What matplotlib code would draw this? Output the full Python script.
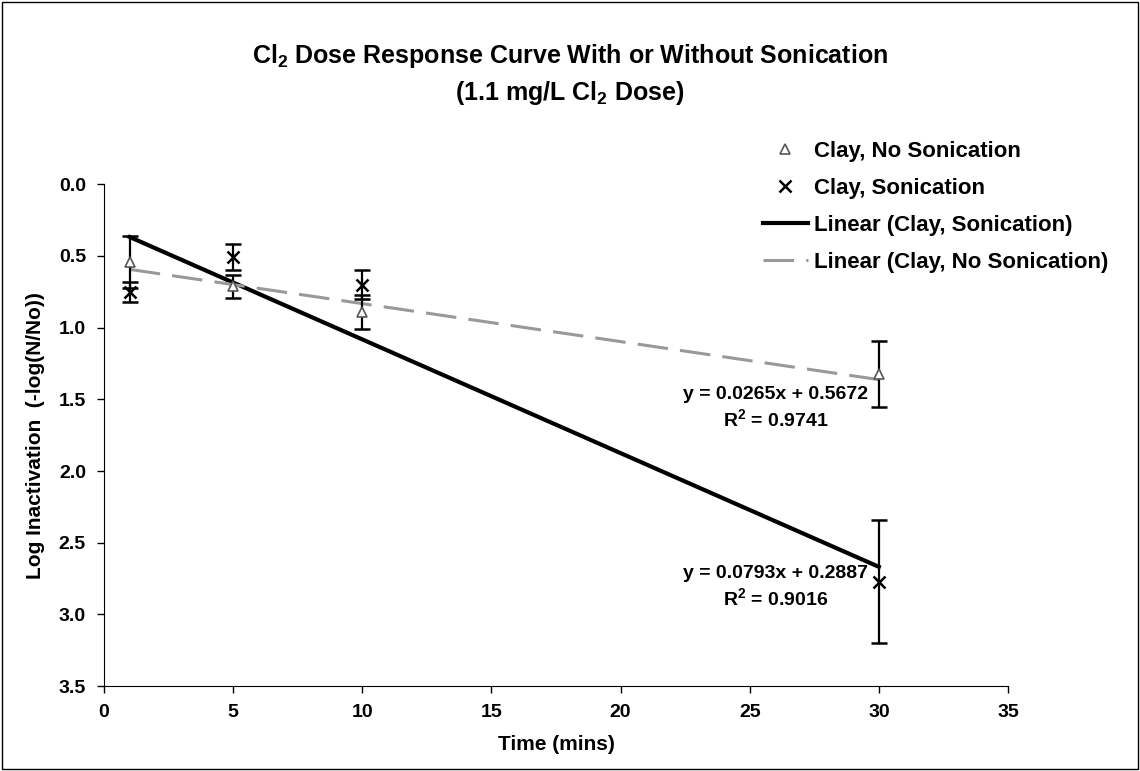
import numpy as np
import matplotlib
matplotlib.use("Agg")
import matplotlib.pyplot as plt
from matplotlib.patches import Rectangle
from matplotlib.ticker import FormatStrFormatter

# =========================
# DATA
# =========================
TIME = [1, 5, 10, 30]

NO_SONIC = [0.54, 0.71, 0.89, 1.32]
NO_SONIC_ERR = [0.18, 0.08, 0.12, 0.23]

SONIC = [0.75, 0.51, 0.70, 2.77]
SONIC_ERR = [0.07, 0.09, 0.10, 0.43]

# trendline equations printed on the chart
FIT_NO_SONIC = (0.0265, 0.5672)
FIT_SONIC = (0.0793, 0.2887)
R2_NO_SONIC = 0.9741
R2_SONIC = 0.9016

FONT = "Liberation Sans"


def main():
    plt.rcParams["font.family"] = [FONT, "DejaVu Sans"]
    plt.rcParams["font.weight"] = "bold"
    plt.rcParams["mathtext.fontset"] = "custom"
    plt.rcParams["mathtext.rm"] = f"{FONT}:bold"
    plt.rcParams["mathtext.default"] = "rm"

    fig = plt.figure(figsize=(11.4, 7.71), dpi=100)
    ax = fig.add_axes([0.0912, 0.110, 0.7930, 0.651])

    # outer chart border
    fig.patches.append(Rectangle((0.002, 0.002), 0.996, 0.996, transform=fig.transFigure,
                                 fill=False, edgecolor="black", linewidth=1.0))

    x = np.array(TIME, dtype=float)

    # error bars + markers
    ax.errorbar(x, NO_SONIC, yerr=NO_SONIC_ERR, fmt="none", ecolor="black",
                elinewidth=1.6, capsize=6, capthick=1.8, zorder=3)
    ax.errorbar(x, SONIC, yerr=SONIC_ERR, fmt="none", ecolor="black",
                elinewidth=1.6, capsize=6, capthick=1.8, zorder=3)

    ax.plot(x, NO_SONIC, linestyle="none", marker="^", markersize=7,
            markerfacecolor="white", markeredgecolor="#555555", markeredgewidth=1.2,
            label="Clay, No Sonication", zorder=4)
    ax.plot(x, SONIC, linestyle="none", marker="x", markersize=8,
            color="black", markeredgewidth=1.8, label="Clay, Sonication", zorder=4)

    # trendlines
    xg = np.array([x.min(), x.max()])
    m, b = FIT_SONIC
    ax.plot(xg, m * xg + b, color="black", linewidth=3,
            label="Linear (Clay, Sonication)", zorder=2)
    m, b = FIT_NO_SONIC
    ax.plot(xg, m * xg + b, color="#999999", linewidth=2.2, dashes=(10, 4),
            label="Linear (Clay, No Sonication)", zorder=2)

    # equations
    ax.text(26.0, 1.56, f"y = {FIT_NO_SONIC[0]:.4f}x + {FIT_NO_SONIC[1]:.4f}\n"
                        f"R$^2$ = {R2_NO_SONIC:.4f}",
            ha="center", va="center", fontsize=14, fontweight="bold", linespacing=1.3)
    ax.text(26.0, 2.81, f"y = {FIT_SONIC[0]:.4f}x + {FIT_SONIC[1]:.4f}\n"
                        f"R$^2$ = {R2_SONIC:.4f}",
            ha="center", va="center", fontsize=14, fontweight="bold", linespacing=1.3)

    # axes
    ax.set_xlim(0, 35)
    ax.set_ylim(3.5, 0.0)
    ax.set_xticks(np.arange(0, 36, 5))
    ax.set_yticks(np.arange(0, 3.51, 0.5))
    ax.yaxis.set_major_formatter(FormatStrFormatter("%.1f"))
    ax.spines["top"].set_visible(False)
    ax.spines["right"].set_visible(False)
    ax.tick_params(direction="out", length=5, width=1, labelsize=14, pad=8)
    for lab in ax.get_xticklabels() + ax.get_yticklabels():
        lab.set_fontweight("bold")

    ax.set_xlabel("Time (mins)", fontsize=15, fontweight="bold", labelpad=10)
    ax.set_ylabel("Log Inactivation  (-log(N/No))", fontsize=15, fontweight="bold", labelpad=10)

    fig.text(0.5, 0.928, "Cl$_2$ Dose Response Curve With or Without Sonication",
             ha="center", va="center", fontsize=18, fontweight="bold")
    fig.text(0.5, 0.880, "(1.1 mg/L Cl$_2$ Dose)",
             ha="center", va="center", fontsize=18, fontweight="bold")

    fig.legend(loc="upper right", bbox_to_anchor=(0.990, 0.843), frameon=False,
               labelspacing=0.72, handlelength=2.0, handletextpad=0.3,
               prop={"weight": "bold", "size": 16})

    fig.savefig("out.png", dpi=100)


if __name__ == "__main__":
    main()
